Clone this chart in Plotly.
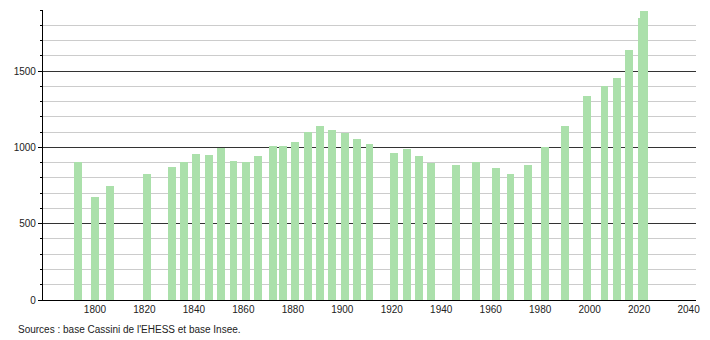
import plotly.graph_objects as go

years = [1793, 1800, 1806, 1821, 1831, 1836, 1841, 1846, 1851, 1856, 1861, 1866,
         1872, 1876, 1881, 1886, 1891, 1896, 1901, 1906, 1911, 1921, 1926, 1931,
         1936, 1946, 1954, 1962, 1968, 1975, 1982, 1990, 1999, 2006, 2011, 2016,
         2021, 2022]
population = [903, 675, 747, 826, 870, 902, 956, 950, 995, 911, 903, 944,
              1006, 1012, 1035, 1099, 1137, 1114, 1096, 1057, 1022, 962, 989, 945,
              898, 884, 901, 864, 828, 885, 1002, 1142, 1337, 1399, 1453, 1638,
              1847, 1895]

x_tickvals = [1800, 1820, 1840, 1860, 1880, 1900, 1920, 1940, 1960, 1980, 2000, 2020, 2040]
y_tickvals = [0, 500, 1000, 1500]
source_text = "Sources : base Cassini de l'EHESS et base Insee."

bar_color = "#abe0ab"

fig = go.Figure()
fig.add_trace(go.Bar(
    x=years, y=population, width=3.2,
    marker=dict(color=bar_color, line=dict(width=0)),
    hoverinfo="x+y",
))

fig.update_layout(
    width=710, height=340,
    margin=dict(l=43, r=10, t=10, b=40),
    plot_bgcolor="white", paper_bgcolor="white",
    showlegend=False,
    font=dict(family="Liberation Sans, Arial, sans-serif", size=10, color="#222"),
    bargap=0,
)

fig.update_xaxes(
    range=[1779, 2043],
    tickvals=x_tickvals,
    ticktext=[str(v) for v in x_tickvals],
    showgrid=False,
    zeroline=False,
    showline=True, linecolor="black", linewidth=1.2,
    ticks="", ticklen=0,
    tickfont=dict(size=10),
)

fig.update_yaxes(
    range=[0, 1900],
    tickvals=y_tickvals,
    ticktext=[str(v) for v in y_tickvals],
    showgrid=True, gridcolor="#333333", gridwidth=1,
    zeroline=False,
    showline=True, linecolor="black", linewidth=1.2,
    ticks="outside", ticklen=4, tickcolor="black",
    minor=dict(dtick=100, showgrid=True, gridcolor="#cccccc", gridwidth=1,
               ticks="outside", ticklen=2, tickcolor="black"),
    tickfont=dict(size=10),
    layer="below traces",
)

fig.add_annotation(
    text=source_text, xref="paper", yref="paper",
    x=(16 - 43) / 657, y=-29 / 290, xanchor="left", yanchor="middle",
    showarrow=False, font=dict(size=10, color="#222"),
)

fig.write_html("out.html")
